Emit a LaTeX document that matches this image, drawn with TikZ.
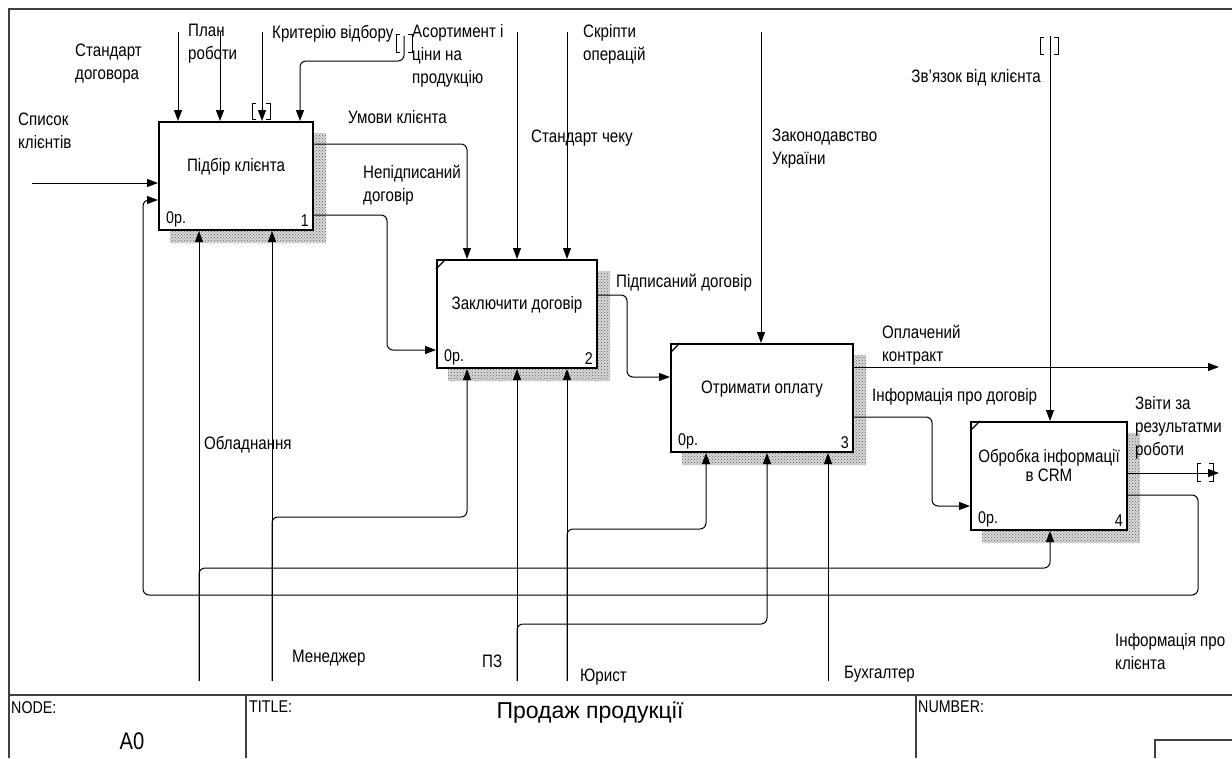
\documentclass[tikz,border=0pt]{standalone}
\usepackage{fontspec}
\setmainfont[FakeStretch=0.84]{Liberation Sans}
\newfontfamily\ttlfont{Liberation Sans}
\usetikzlibrary{arrows.meta,positioning,patterns}

\begin{document}
\begin{tikzpicture}[x=1pt,y=-1pt,
  box/.style={draw,line width=2pt,minimum width=#1,minimum height=108pt,inner sep=0pt,
    align=center,text depth=22pt,font=\fontsize{18}{19}\selectfont},
  lbl/.style={anchor=west,align=left,inner sep=0pt,font=\fontsize{18}{23}\selectfont},
  arr/.style={-{Triangle[length=11pt,width=8pt]},line width=1pt,rounded corners=6pt},
  shd/.style={fill=gray!35,pattern=crosshatch dots,pattern color=gray!70!black},
  tnl/.style={line width=0.8pt},
  frm/.style={line width=1.3pt,black!75}]
\useasboundingbox (0,0) rectangle (1232,758);

% boxes
\node[box=154pt] (b1) at (236,176) {Підбір клієнта};
\node[box=160pt] (b2) at (517,314) {Заключити договір};
\node[box=182pt] (b3) at (762,398) {Отримати оплату};
\node[box=156pt] (b4) at (1049,476) {Обробка інформації\\в CRM};
\foreach \b in {b1,b2,b3,b4} {
  \fill[gray!30] ([yshift=-12pt]\b.north east) -- ([xshift=12pt,yshift=-12pt]\b.north east)
    -- ([xshift=12pt,yshift=-12pt]\b.south east) -- ([xshift=12pt,yshift=-12pt]\b.south west)
    -- ([xshift=12pt]\b.south west) -- (\b.south east) -- cycle;
  \fill[shd] ([yshift=-12pt]\b.north east) -- ([xshift=12pt,yshift=-12pt]\b.north east)
    -- ([xshift=12pt,yshift=-12pt]\b.south east) -- ([xshift=12pt,yshift=-12pt]\b.south west)
    -- ([xshift=12pt]\b.south west) -- (\b.south east) -- cycle;
}
\foreach \b in {b2,b3,b4}
  \draw[line width=1.2pt] ([yshift=-10pt]\b.north west) -- ([xshift=10pt]\b.north west);
\foreach \b/\n in {b1/1,b2/2,b3/3,b4/4} {
  \node[anchor=south west,inner sep=0pt,font=\fontsize{17}{17}\selectfont] (\b o) at ([xshift=8pt,yshift=4pt]\b.south west) {0р.};
  \node[anchor=south east,inner sep=0pt,font=\fontsize{17}{17}\selectfont] (\b n) at ([xshift=-5pt,yshift=4pt]\b.south east) {\n};
}

% free ends
\coordinate (inA) at (32,183);
\coordinate (ctA) at (178,32);
\coordinate (ctB) at (220,32);
\coordinate (ctC) at (262,32);
\coordinate (ctD) at (404,36);
\coordinate (ctE) at (300,61);
\coordinate (ctF) at (517,32);
\coordinate (ctG) at (567,32);
\coordinate (ctH) at (761,32);
\coordinate (ctI) at (1050,36);
\coordinate (uA) at (467,144);
\coordinate (nA) at (387,215);
\coordinate (nB) at (387,350);
\coordinate (pA) at (627,295);
\coordinate (pB) at (627,377);
\coordinate (oA) at (1219,367);
\coordinate (dA) at (932,417);
\coordinate (dB) at (932,506);
\coordinate (zA) at (1219,473);
\coordinate (kA) at (1198,495);
\coordinate (kB) at (1198,595);
\coordinate (kC) at (143,595);
\coordinate (kD) at (143,200);
\coordinate (mA) at (199,681);
\coordinate (mB) at (199,568);
\coordinate (mC) at (1050,568);
\coordinate (mD) at (272,681);
\coordinate (mE) at (272,517);
\coordinate (mF) at (467,517);
\coordinate (mG) at (517,681);
\coordinate (mH) at (517,624);
\coordinate (mI) at (767,624);
\coordinate (mJ) at (567,681);
\coordinate (mK) at (567,529);
\coordinate (mL) at (706,529);
\coordinate (mM) at (828,681);

% inputs and outputs
\draw[arr] (inA) -- (inA -| b1.west);
\draw[arr] (b1.east |- uA) -- (uA) -- (uA |- b2.north);
\draw[arr] (b1.east |- nA) -- (nA) -- (nB) -- (nB -| b2.west);
\draw[arr] (b2.east |- pA) -- (pA) -- (pB) -- (pB -| b3.west);
\draw[arr] (b3.east |- oA) -- (oA);
\draw[arr] (b3.east |- dA) -- (dA) -- (dB) -- (dB -| b4.west);
\draw[arr] (b4.east |- zA) -- (zA);
\draw[arr] (b4.east |- kA) -- (kA) -- (kB) -- (kC) -- (kD) -- (kD -| b1.west);

% controls
\foreach \c/\b in {ctA/b1,ctB/b1,ctC/b1,ctF/b2,ctG/b2,ctH/b3,ctI/b4}
  \draw[arr] (\c) -- (\c |- \b.north);
\draw[arr] (ctD) -- (ctD |- ctE) -- (ctE) -- (ctE |- b1.north);

% mechanisms
\draw[arr] (mA) -- (mA |- b1.south);
\draw[arr] (mA) -- (mB) -- (mC) -- (mC |- b4.south);
\draw[arr] (mD) -- (mD |- b1.south);
\draw[arr] (mD) -- (mE) -- (mF) -- (mF |- b2.south);
\draw[arr] (mG) -- (mG |- b2.south);
\draw[arr] (mG) -- (mH) -- (mI) -- (mI |- b3.south);
\draw[arr] (mJ) -- (mJ |- b2.south);
\draw[arr] (mJ) -- (mK) -- (mL) -- (mL |- b3.south);
\draw[arr] (mM) -- (mM |- b3.south);

% tunnels
\draw[tnl] (256,103) -- (252,103) -- (252,119) -- (256,119) (266,103) -- (270,103) -- (270,119) -- (266,119);
\draw[tnl] (400,34) -- (396,34) -- (396,52) -- (400,52) (408,34) -- (412,34) -- (412,52) -- (408,52);
\draw[tnl] (1044,37) -- (1040,37) -- (1040,54) -- (1044,54) (1054,37) -- (1058,37) -- (1058,54) -- (1054,54);
\draw[tnl] (1201,463) -- (1197,463) -- (1197,481) -- (1201,481) (1209,463) -- (1213,463) -- (1213,481) -- (1209,481);

% labels
\node[lbl] (lSp) at (18,131) {Список\\клієнтів};
\node[lbl] (lSd) at (75,64) {Стандарт\\договора};
\node[lbl] (lPl) at (188,44) {План\\роботи};
\node[lbl] (lKr) at (272,34) {Критерію відбору};
\node[lbl] (lAs) at (412,56) {Асортимент і\\ціни на\\продукцію};
\node[lbl] (lSk) at (583,44) {Скріпти\\операцій};
\node[lbl] (lSc) at (531,138) {Стандарт чеку};
\node[lbl] (lUm) at (348,117) {Умови клієнта};
\node[lbl] (lNp) at (363,185) {Непідписаний\\договір};
\node[lbl] (lZk) at (772,149) {Законодавство\\України};
\node[lbl,anchor=east] (lZv) at (1041,78) {Зв'язок від клієнта};
\node[lbl] (lPd) at (616,283) {Підписаний договір};
\node[lbl] (lOp) at (882,345) {Оплачений\\контракт};
\node[lbl] (lId) at (872,397) {Інформація про договір};
\node[lbl] (lZr) at (1135,428) {Звіти за\\результатми\\роботи};
\node[lbl] (lOb) at (204,445) {Обладнання};
\node[lbl] (lMn) at (292,658) {Менеджер};
\node[lbl] (lPz) at (482,661) {ПЗ};
\node[lbl] (lJu) at (580,677) {Юрист};
\node[lbl] (lBu) at (844,674) {Бухгалтер};
\node[lbl] (lIk) at (1115,652) {Інформація про\\клієнта};

% frame and title block
\draw[frm] (9,758) -- (9,9) -- (1232,9);
\draw[frm] (9,695) -- (1232,695);
\draw[frm] (246,695) -- (246,758) (916,695) -- (916,758);
\draw[frm] (1155,758) -- (1155,740) -- (1232,740);
\node[anchor=north west,inner sep=0pt,font=\fontsize{17}{17}\selectfont] (tNd) at (11,701) {NODE:};
\node[anchor=north west,inner sep=0pt,font=\fontsize{17}{17}\selectfont] (tTt) at (249,701) {TITLE:};
\node[anchor=north west,inner sep=0pt,font=\fontsize{17}{17}\selectfont] (tNm) at (918,701) {NUMBER:};
\node[font=\fontsize{24}{24}\selectfont] (tA0) at (132,741) {A0};
\node[font=\ttlfont\fontsize{23}{26}\selectfont] (tTl) at (590,713) {Продаж продукції};
\end{tikzpicture}
\end{document}
